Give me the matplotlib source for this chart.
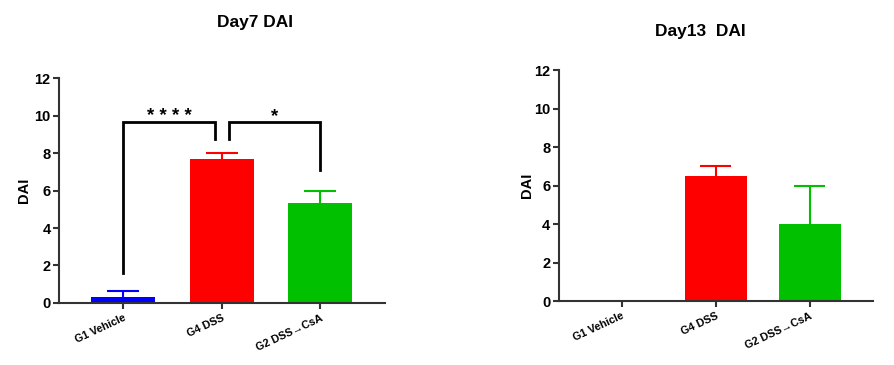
import matplotlib.pyplot as plt
import numpy as np

plt.rcParams['font.family'] = ['Liberation Sans', 'DejaVu Sans']
plt.rcParams['font.weight'] = 'bold'

# ---------------------------------------------------------------------------
# Data
# ---------------------------------------------------------------------------
groups = ['G1 Vehicle', 'G4 DSS', 'G2 DSS\u2192CsA']
colors = ['#0000ff', '#ff0000', '#00c000']

day7_mean = [0.3, 7.7, 5.33]
day7_err = [0.35, 0.3, 0.67]

day13_mean = [0.0, 6.5, 4.0]
day13_err = [0.0, 0.5, 2.0]

yticks = [0, 2, 4, 6, 8, 10, 12]

# significance brackets for day 7: (x_left, x_right, top, left_foot, right_foot, label)
brackets = [(0.0, 0.93, 9.65, 1.6, 8.75, '* * * *'),
            (1.07, 2.0, 9.65, 8.75, 7.1, '*')]

AXIS_COLOR = '#333333'


def style_axes(ax, xlim):
    ax.set_xlim(xlim)
    ax.set_ylim(0, 12)
    ax.set_yticks(yticks)
    ax.set_xticks(range(len(groups)))
    ax.set_xticklabels(groups, rotation=25, ha='right', fontsize=7.8,
                       rotation_mode='anchor')
    ax.tick_params(axis='y', labelsize=10.5, width=1.5, length=4,
                   color=AXIS_COLOR, pad=2)
    ax.tick_params(axis='x', width=1.5, length=4, color=AXIS_COLOR, pad=3)
    for s in ('top', 'right'):
        ax.spines[s].set_visible(False)
    for s in ('left', 'bottom'):
        ax.spines[s].set_linewidth(1.5)
        ax.spines[s].set_color(AXIS_COLOR)
    ax.set_ylabel('DAI', fontsize=10.5, fontweight='bold')


def draw_bars(ax, means, errs, width):
    x = np.arange(len(groups))
    for i in range(len(groups)):
        if means[i] <= 0 and errs[i] <= 0:
            continue
        ax.bar(x[i], means[i], width=width, color=colors[i], zorder=2)
        # upper error only, cap half as wide as the bar
        top = means[i] + errs[i]
        ax.vlines(x[i], means[i], top, color=colors[i], linewidth=1.5, zorder=3)
        ax.hlines(top, x[i] - width / 4, x[i] + width / 4, color=colors[i],
                  linewidth=1.5, zorder=3)


fig = plt.figure(figsize=(8.94, 3.65), dpi=100)

# ---- Day 7 ----------------------------------------------------------------
ax1 = fig.add_axes([0.066, 0.170, 0.365, 0.616])
draw_bars(ax1, day7_mean, day7_err, 0.65)
style_axes(ax1, (-0.65, 2.66))
ax1.yaxis.set_label_coords(-0.085, 0.5)
for xl, xr, top, fl, fr, lab in brackets:
    ax1.plot([xl, xl, xr, xr], [fl, top, top, fr], color='black',
             linewidth=2, solid_joinstyle='miter', zorder=4)
    ax1.text((xl + xr) / 2, top + 0.32, lab, ha='center', va='center',
             fontsize=13.5, fontweight='bold')
fig.text(0.285, 0.937, 'Day7 DAI', ha='center', va='center',
         fontsize=12.5, fontweight='bold')

# ---- Day 13 ---------------------------------------------------------------
ax2 = fig.add_axes([0.625, 0.175, 0.352, 0.633])
draw_bars(ax2, day13_mean, day13_err, 0.66)
style_axes(ax2, (-0.67, 2.68))
ax2.yaxis.set_label_coords(-0.08, 0.5)
fig.text(0.783, 0.913, 'Day13  DAI', ha='center', va='center',
         fontsize=12.5, fontweight='bold')

fig.savefig('out.png', dpi=100)
